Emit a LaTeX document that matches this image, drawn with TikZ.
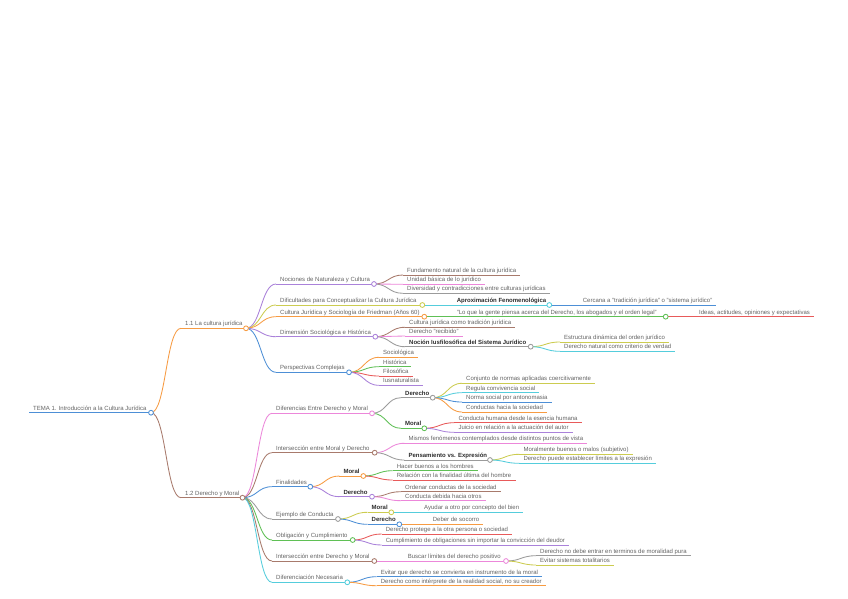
\documentclass[tikz,border=0pt]{standalone}
\usepackage{fontspec}
\setmainfont{Liberation Sans}
\usetikzlibrary{calc}
\pgfdeclarelayer{bg}
\pgfsetlayers{bg,main}
\definecolor{cblue}{RGB}{77,143,214}
\definecolor{corange}{RGB}{247,155,66}
\definecolor{cbrown}{RGB}{168,122,108}
\definecolor{cpurple}{RGB}{170,130,218}
\definecolor{colive}{RGB}{204,204,80}
\definecolor{ccyan}{RGB}{85,205,220}
\definecolor{cgreen}{RGB}{95,192,85}
\definecolor{cred}{RGB}{232,90,90}
\definecolor{cpink}{RGB}{236,135,218}
\definecolor{cgray}{RGB}{155,155,155}
\definecolor{txtgray}{RGB}{100,100,100}
\definecolor{txtdark}{RGB}{45,45,45}
\tikzset{
  mmline/.style={line width=0.85pt},
  mmdot/.style={circle, fill=white, inner sep=0pt, minimum size=4.8pt, line width=0.85pt},
  mmlbl/.style={inner sep=0pt, font=\fontsize{6}{7}\selectfont, text=txtgray},
  mmbold/.style={font=\fontsize{6}{7}\selectfont\bfseries, text=txtdark},
}
% leaf: [opt]{name}{color}{xs}{y}{text}
\newcommand\MMleaf[6][]{%
  \coordinate (#2-s) at (#4,#5);
  \node[mmlbl,#1,anchor=base west] (#2) at ($(#2-s)+(4,-2.4)$) {#6};
  \begin{pgfonlayer}{bg}\draw[mmline,#3] (#2-s) -- ($(#2.east |- #2-s)+(4,0)$);\end{pgfonlayer}
}
% parent: [opt]{name}{color}{xs}{y}{xe}{text}
\newcommand\MMpar[7][]{%
  \coordinate (#2-s) at (#4,#5);
  \coordinate (#2-e) at (#6,#5);
  \node[mmlbl,#1,anchor=base west] (#2) at ($(#2-s)+(4,-2.4)$) {#7};
  \begin{pgfonlayer}{bg}\draw[mmline,#3] (#2-s) -- (#2-e);\end{pgfonlayer}
  \node[mmdot,draw=#3] (#2-c) at (#2-e) {};
}
% link: {parent}{child}{color}
\newcommand\MMlink[3]{%
  \begin{pgfonlayer}{bg}\draw[mmline,#3] let \p1=(#1-e), \p2=(#2-s), \n1={0.5*(\x2-\x1)} in
    (\p1) .. controls ($(\p1)+(\n1,0)$) and ($(\p2)-(\n1,0)$) .. (\p2);\end{pgfonlayer}
}
\begin{document}
\begin{tikzpicture}[x=1pt,y=-1pt]
\begin{pgfonlayer}{bg}\fill[white] (0,0) rectangle (848,599);\end{pgfonlayer}
\useasboundingbox (0,0) rectangle (848,599);
% root
\MMpar{root}{cblue}{29}{412.7}{151}{TEMA 1. Introducción a la Cultura Jurídica}
\MMpar{n11}{corange}{181}{328.3}{246}{1.1 La cultura jurídica}
\MMpar{n12}{cbrown}{181}{497.7}{242.5}{1.2 Derecho y Moral}
\MMlink{root}{n11}{corange}
\MMlink{root}{n12}{cbrown}
% 1.1 children
\MMpar{nat}{cpurple}{276}{284}{374}{Nociones de Naturaleza y Cultura}
\MMpar{dif}{colive}{276}{305}{422.3}{Dificultades para Conceptualizar la Cultura Jurídica}
\MMpar{fri}{corange}{276}{316.7}{424.3}{Cultura Jurídica y Sociología de Friedman (Años 60)}
\MMpar{dim}{cpurple}{276}{336.7}{375.3}{Dimensión Sociológica e Histórica}
\MMpar{per}{cblue}{276}{372.3}{349}{Perspectivas Complejas}
\MMlink{n11}{nat}{cpurple}
\MMlink{n11}{dif}{colive}
\MMlink{n11}{fri}{corange}
\MMlink{n11}{dim}{cpurple}
\MMlink{n11}{per}{cblue}
% Nociones
\MMleaf{fund}{cbrown}{403}{275}{Fundamento natural de la cultura jurídica}
\MMleaf{unid}{cpink}{403}{284.3}{Unidad básica de lo jurídico}
\MMleaf{div}{cgray}{403}{293.3}{Diversidad y contradicciones entre culturas jurídicas}
\MMlink{nat}{fund}{cbrown}
\MMlink{nat}{unid}{cpink}
\MMlink{nat}{div}{cgray}
% Dificultades
\MMpar[mmbold]{apr}{ccyan}{452.7}{305}{549.3}{Aproximación Fenomenológica}
\MMlink{dif}{apr}{ccyan}
\MMleaf{cerc}{cblue}{578.7}{305}{Cercana a "tradición jurídica" o "sistema jurídico"}
\MMlink{apr}{cerc}{cblue}
% Friedman
\MMpar{gente}{cgreen}{452.7}{316.7}{665.7}{"Lo que la gente piensa acerca del Derecho, los abogados y el orden legal"}
\MMlink{fri}{gente}{cgreen}
\MMleaf{ideas}{cred}{695}{316.7}{Ideas, actitudes, opiniones y expectativas}
\MMlink{gente}{ideas}{cred}
% Dimensión
\MMleaf{trad}{cbrown}{405}{327.3}{Cultura jurídica como tradición jurídica}
\MMleaf{recib}{cpink}{405}{336}{Derecho "recibido"}
\MMpar[mmbold]{iusf}{cgray}{405}{346.7}{530.7}{Noción Iusfilosófica del Sistema Jurídico}
\MMlink{dim}{trad}{cbrown}
\MMlink{dim}{recib}{cpink}
\MMlink{dim}{iusf}{cgray}
\MMleaf{estr}{colive}{560}{342}{Estructura dinámica del orden jurídico}
\MMleaf{dnat}{ccyan}{560}{351.3}{Derecho natural como criterio de verdad}
\MMlink{iusf}{estr}{colive}
\MMlink{iusf}{dnat}{ccyan}
% Perspectivas
\MMleaf{soc}{corange}{379}{357.3}{Sociológica}
\MMleaf{his}{cgreen}{379}{366.7}{Histórica}
\MMleaf{fil}{cred}{379}{376}{Filosófica}
\MMleaf{ius}{cpurple}{379}{385.3}{Iusnaturalista}
\MMlink{per}{soc}{corange}
\MMlink{per}{his}{cgreen}
\MMlink{per}{fil}{cred}
\MMlink{per}{ius}{cpurple}
% 1.2 children
\MMpar{difer}{cpink}{272}{413.3}{372}{Diferencias Entre Derecho y Moral}
\MMpar{inter1}{cbrown}{272}{452.7}{374.7}{Intersección entre Moral y Derecho}
\MMpar{fin}{cblue}{272}{486.7}{310.3}{Finalidades}
\MMpar{ej}{cgray}{272}{519}{338}{Ejemplo de Conducta}
\MMpar{obl}{cgreen}{272}{540}{352.7}{Obligación y Cumplimiento}
\MMpar{inter2}{cbrown}{272}{561}{374.3}{Intersección entre Derecho y Moral}
\MMpar{difn}{ccyan}{272}{582.3}{347.3}{Diferenciación Necesaria}
\MMlink{n12}{difer}{cpink}
\MMlink{n12}{inter1}{cbrown}
\MMlink{n12}{fin}{cblue}
\MMlink{n12}{ej}{cgray}
\MMlink{n12}{obl}{cgreen}
\MMlink{n12}{inter2}{cbrown}
\MMlink{n12}{difn}{ccyan}
% Diferencias
\MMpar[mmbold]{derA}{cgray}{401}{397.7}{432.7}{Derecho}
\MMpar[mmbold]{morA}{cgreen}{401}{428.3}{424.3}{Moral}
\MMlink{difer}{derA}{cgray}
\MMlink{difer}{morA}{cgreen}
\MMleaf{conj}{colive}{462}{383.3}{Conjunto de normas aplicadas coercitivamente}
\MMleaf{reg}{ccyan}{462}{392.7}{Regula convivencia social}
\MMleaf{norm}{cblue}{462}{402}{Norma social por antonomasia}
\MMleaf{condS}{corange}{462}{412}{Conductas hacia la sociedad}
\MMlink{derA}{conj}{colive}
\MMlink{derA}{reg}{ccyan}
\MMlink{derA}{norm}{cblue}
\MMlink{derA}{condS}{corange}
\MMleaf{condH}{cred}{454.3}{422.7}{Conducta humana desde la esencia humana}
\MMleaf{juic}{cpurple}{454.3}{432.3}{Juicio en relación a la actuación del autor}
\MMlink{morA}{condH}{cred}
\MMlink{morA}{juic}{cpurple}
% Intersección Moral y Derecho
\MMleaf{mism}{cpink}{404.3}{443.3}{Mismos fenómenos contemplados desde distintos puntos de vista}
\MMpar[mmbold]{pens}{cgray}{404.3}{460}{490}{Pensamiento vs. Expresión}
\MMlink{inter1}{mism}{cpink}
\MMlink{inter1}{pens}{cgray}
\MMleaf{moralm}{colive}{519.3}{454.3}{Moralmente buenos o malos (subjetivo)}
\MMleaf{dpuede}{ccyan}{519.3}{463.3}{Derecho puede establecer límites a la expresión}
\MMlink{pens}{moralm}{colive}
\MMlink{pens}{dpuede}{ccyan}
% Finalidades
\MMpar[mmbold]{morB}{corange}{339.3}{476}{363.3}{Moral}
\MMpar[mmbold]{derB}{cpurple}{339.3}{496.7}{372}{Derecho}
\MMlink{fin}{morB}{corange}
\MMlink{fin}{derB}{cpurple}
\MMleaf{hacer}{cgreen}{392.7}{470.7}{Hacer buenos a los hombres}
\MMleaf{relac}{cred}{392.7}{480}{Relación con la finalidad última del hombre}
\MMlink{morB}{hacer}{cgreen}
\MMlink{morB}{relac}{cred}
\MMleaf{orden}{cbrown}{401}{491.7}{Ordenar conductas de la sociedad}
\MMleaf{debida}{cpink}{401}{500.7}{Conducta debida hacia otros}
\MMlink{derB}{orden}{cbrown}
\MMlink{derB}{debida}{cpink}
% Ejemplo
\MMpar[mmbold]{morC}{colive}{367.5}{512.3}{391.3}{Moral}
\MMpar[mmbold]{derC}{cblue}{367.5}{524.3}{399.3}{Derecho}
\MMlink{ej}{morC}{colive}
\MMlink{ej}{derC}{cblue}
\MMleaf{ayud}{ccyan}{420}{512.3}{Ayudar a otro por concepto del bien}
\MMleaf{soc2}{corange}{428.7}{524.3}{Deber de socorro}
\MMlink{morC}{ayud}{ccyan}
\MMlink{derC}{soc2}{corange}
% Obligación
\MMleaf{prot}{cred}{381.7}{534}{Derecho protege a la otra persona o sociedad}
\MMleaf{cumpl}{cpurple}{381.7}{545}{Cumplimiento de obligaciones sin importar la convicción del deudor}
\MMlink{obl}{prot}{cred}
\MMlink{obl}{cumpl}{cpurple}
% Intersección Derecho y Moral
\MMpar{busc}{cpink}{403.7}{561}{506}{Buscar límites del derecho positivo}
\MMlink{inter2}{busc}{cpink}
\MMleaf{nodebe}{cgray}{536}{555.7}{Derecho no debe entrar en terminos de moralidad pura}
\MMleaf{evit}{colive}{536}{565}{Evitar sistemas totalitarios}
\MMlink{busc}{nodebe}{cgray}
\MMlink{busc}{evit}{colive}
% Diferenciación
\MMleaf{evq}{cblue}{376.7}{576.7}{Evitar que derecho se convierta en instrumento de la moral}
\MMleaf{dint}{corange}{376.7}{585.7}{Derecho como intérprete de la realidad social, no su creador}
\MMlink{difn}{evq}{cblue}
\MMlink{difn}{dint}{corange}
\end{tikzpicture}
\end{document}
